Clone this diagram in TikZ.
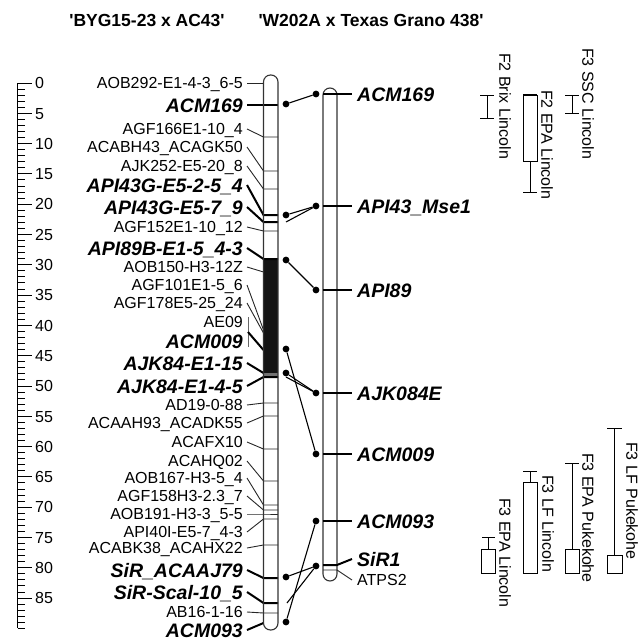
\documentclass[tikz,border=0pt]{standalone}
\usepackage{fontspec}
\setmainfont{Liberation Sans}
\usetikzlibrary{positioning}
\tikzset{
    maptitle/.style={font=\fontsize{17.5}{20}\selectfont\bfseries},
    mlbl/.style={anchor=east, inner sep=0pt, inner xsep=4pt, text height=11.5pt,
                text depth=0pt, font=\fontsize{16}{18}\selectfont},
    mlblb/.style={anchor=east, inner sep=0pt, inner xsep=4pt, text height=14pt,
                text depth=0pt, font=\fontsize{19.5}{21}\selectfont\bfseries\itshape},
    rlbl/.style={mlbl, anchor=west, inner xsep=5pt},
    rlblb/.style={mlblb, anchor=west, inner xsep=5pt},
    sclbl/.style={anchor=west, inner sep=2pt, text height=11.5pt, text depth=0pt,
                font=\fontsize{16}{18}\selectfont},
    chrom/.style={draw=black!80, line width=1.1pt, rounded corners=7pt},
    mk/.style={black!85, line width=0.9pt},
    bmk/.style={black, line width=2pt},
    link/.style={black, line width=1.1pt},
    dot/.style={circle, fill=black, inner sep=0pt, minimum size=6.8pt},
    qtl/.style={black, line width=1pt},
    qlbl/.style={rotate=-90, anchor=west, inner sep=0pt, font=\fontsize{16}{18}\selectfont},
}

\begin{document}
\begin{tikzpicture}[x=1pt, y=-1pt]
    \useasboundingbox (0,0) rectangle (642,640);

    \node[maptitle] (ttl1) at (147,20) {\textquotesingle BYG15-23 x AC43\textquotesingle};
    \node[maptitle] (ttl2) at (371,20) {\textquotesingle W202A x Texas Grano 438\textquotesingle};

    % cM scale
    \draw[line width=1.2pt] (17.5,83) -- (17.5,628.4);
    \foreach \c in {0,...,90}
        \draw[line width=1pt] (17.5,{83+6.06*\c}) -- (25,{83+6.06*\c});
    \foreach \c in {0,5,...,85} {
        \draw[line width=1pt] (17.5,{83+6.06*\c}) -- (32,{83+6.06*\c});
        \node[sclbl] (s\c) at (33,{83+6.06*\c}) {\c};
    }

    % BYG15-23 x AC43
    \fill[black!92] (263.5,258) rectangle (278,373);
    \fill[black!55] (263.5,373) rectangle (278,376);

    \node[mlbl] (a1) at (247,83) {AOB292-E1-4-3\_6-5};
    \coordinate (k1) at (263.5,83);
    \draw[mk] (a1.east) -- (k1);
    \node[mlblb] (a2) at (247,105) {ACM169};
    \coordinate (k2) at (263.5,105);
    \draw[bmk] (a2.east) -- (k2) -- ++(14.5,0);
    \node[mlbl] (a3) at (247,129) {AGF166E1-10\_4};
    \coordinate (k3) at (263.5,137);
    \draw[mk] (a3.east) -- (k3) -- ++(14.5,0);
    \node[mlbl] (a4) at (247,147) {ACABH43\_ACAGK50};
    \coordinate (k4) at (263.5,171);
    \draw[mk] (a4.east) -- (k4) -- ++(14.5,0);
    \node[mlbl] (a5) at (247,166) {AJK252-E5-20\_8};
    \coordinate (k5) at (263.5,189);
    \draw[mk] (a5.east) -- (k5) -- ++(14.5,0);
    \node[mlblb] (a6) at (247,185) {API43G-E5-2-5\_4};
    \coordinate (k6) at (263.5,215);
    \draw[bmk] (a6.east) -- (k6) -- ++(14.5,0);
    \node[mlblb] (a7) at (247,207) {API43G-E5-7\_9};
    \coordinate (k7) at (263.5,222);
    \draw[bmk] (a7.east) -- (k7) -- ++(14.5,0);
    \node[mlbl] (a8) at (247,227) {AGF152E1-10\_12};
    \coordinate (k8) at (263.5,231);
    \draw[mk] (a8.east) -- (k8) -- ++(14.5,0);
    \node[mlblb] (a9) at (247,248) {API89B-E1-5\_4-3};
    \coordinate (k9) at (263.5,259);
    \draw[bmk] (a9.east) -- (k9) -- ++(14.5,0);
    \node[mlbl] (a10) at (247,267) {AOB150-H3-12Z};
    \coordinate (k10) at (263.5,272);
    \draw[mk] (a10.east) -- (k10);
    \node[mlbl] (a11) at (247,285) {AGF101E1-5\_6};
    \coordinate (k11) at (263.5,330);
    \draw[mk] (a11.east) -- (k11);
    \node[mlbl] (a12) at (247,303) {AGF178E5-25\_24};
    \coordinate (k12) at (263.5,333);
    \draw[mk] (a12.east) -- (k12);
    \node[mlbl] (a13) at (247,322) {AE09};
    \node[mlblb] (a14) at (247,341) {ACM009};
    \coordinate (br1) at (248,317);
    \coordinate (br2) at (248,347);
    \coordinate (br3) at (248,332);
    \coordinate (k14) at (263.5,350);
    \draw[black!60, line width=1pt] (br1) -- (br2);
    \draw[bmk] (br3) -- (k14);
    \node[mlblb] (a15) at (247,363) {AJK84-E1-15};
    \coordinate (k15) at (263.5,373);
    \draw[bmk] (a15.east) -- (k15);
    \node[mlblb] (a16) at (247,386) {AJK84-E1-4-5};
    \coordinate (k16) at (263.5,377);
    \draw[bmk] (a16.east) -- (k16) -- ++(14.5,0);
    \node[mlbl] (a17) at (247,405) {AD19-0-88};
    \coordinate (k17) at (263.5,403);
    \draw[mk] (a17.east) -- (k17) -- ++(14.5,0);
    \node[mlbl] (a18) at (247,423) {ACAAH93\_ACADK55};
    \coordinate (k18) at (263.5,416);
    \draw[mk] (a18.east) -- (k18) -- ++(14.5,0);
    \node[mlbl] (a19) at (247,442) {ACAFX10};
    \coordinate (k19) at (263.5,449);
    \draw[mk] (a19.east) -- (k19) -- ++(14.5,0);
    \node[mlbl] (a20) at (247,461) {ACAHQ02};
    \coordinate (k20) at (263.5,481);
    \draw[mk] (a20.east) -- (k20) -- ++(14.5,0);
    \node[mlbl] (a21) at (247,478) {AOB167-H3-5\_4};
    \coordinate (k21) at (263.5,505);
    \draw[mk] (a21.east) -- (k21) -- ++(14.5,0);
    \node[mlbl] (a22) at (247,496) {AGF158H3-2.3\_7};
    \coordinate (k22) at (263.5,510);
    \draw[mk] (a22.east) -- (k22) -- ++(14.5,0);
    \node[mlbl] (a23) at (247,514) {AOB191-H3-3\_5-5};
    \coordinate (k23) at (263.5,514);
    \draw[mk] (a23.east) -- (k23) -- ++(14.5,0);
    \node[mlbl] (a24) at (247,532) {API40I-E5-7\_4-3};
    \coordinate (k24) at (263.5,519);
    \draw[mk] (a24.east) -- (k24) -- ++(14.5,0);
    \node[mlbl] (a25) at (247,548) {ACABK38\_ACAHX22};
    \coordinate (k25) at (263.5,545);
    \draw[mk] (a25.east) -- (k25) -- ++(14.5,0);
    \node[mlblb] (a26) at (247,570) {SiR\_ACAAJ79};
    \coordinate (k26) at (263.5,578);
    \draw[bmk] (a26.east) -- (k26) -- ++(14.5,0);
    \node[mlblb] (a27) at (247,592) {SiR-Scal-10\_5};
    \coordinate (k27) at (263.5,603);
    \draw[bmk] (a27.east) -- (k27) -- ++(14.5,0);
    \node[mlbl] (a28) at (247,612) {AB16-1-16};
    \coordinate (k28) at (263.5,613);
    \draw[mk] (a28.east) -- (k28) -- ++(14.5,0);
    \node[mlblb] (a29) at (247,630) {ACM093};
    \coordinate (k29) at (263.5,623);
    \draw[bmk] (a29.east) -- (k29);

    \draw[chrom] (263.5,75) rectangle (278,630);

    % W202A x Texas Grano 438
    \draw[chrom] (323,88) rectangle (337,581);

    \coordinate (q1) at (323,94);
    \node[rlblb] (b1) at (352,94) {ACM169};
    \draw[bmk] (q1) -- (b1.west);
    \coordinate (q2) at (323,206);
    \node[rlblb] (b2) at (352,206) {API43\_Mse1};
    \draw[bmk] (q2) -- (b2.west);
    \coordinate (q3) at (323,290);
    \node[rlblb] (b3) at (352,290) {API89};
    \draw[bmk] (q3) -- (b3.west);
    \coordinate (q4) at (323,393);
    \node[rlblb] (b4) at (352,393) {AJK084E};
    \draw[bmk] (q4) -- (b4.west);
    \coordinate (q5) at (323,454);
    \node[rlblb] (b5) at (352,454) {ACM009};
    \draw[bmk] (q5) -- (b5.west);
    \coordinate (q6) at (323,521);
    \node[rlblb] (b6) at (352,521) {ACM093};
    \draw[bmk] (q6) -- (b6.west);
    \coordinate (q7) at (323,565);
    \node[rlblb] (b7) at (352,559) {SiR1};
    \draw[bmk] (q7) -- ++(14,0) -- (b7.west);
    \coordinate (q8) at (323,570);
    \node[rlbl] (b8) at (352,580) {ATPS2};
    \draw[mk] (q8) -- ++(14,0) -- (b8.west);

    % links between maps
    \node[dot] (l1) at (286,104) {};
    \node[dot] (r1) at (316,94) {};
    \draw[link] (l1) -- (r1);
    \node[dot] (l2) at (286,215) {};
    \node[dot] (r2) at (316,206) {};
    \coordinate (l2b) at (286,222);
    \draw[link] (l2) -- (r2);
    \draw[link] (l2b) -- (r2);
    \node[dot] (l3) at (286,260) {};
    \node[dot] (r3) at (316,290) {};
    \draw[link] (l3) -- (r3);
    \node[dot] (l4) at (286,349) {};
    \node[dot] (r4) at (316,454) {};
    \draw[link] (l4) -- (r4);
    \node[dot] (l5) at (286,373) {};
    \node[dot] (r5) at (316,393) {};
    \coordinate (l5b) at (286,377);
    \draw[link] (l5) -- (r5);
    \draw[link] (l5b) -- (r5);
    \node[dot] (l6) at (286,622) {};
    \node[dot] (r6) at (316,521) {};
    \draw[link] (l6) -- (r6);
    \node[dot] (l7) at (286,577) {};
    \node[dot] (r7) at (316,566) {};
    \coordinate (l7b) at (287,603);
    \draw[link] (l7) -- (r7);
    \draw[link] (l7b) -- (r7);

    % QTL intervals
    \draw[qtl] (480,95) -- (494,95) (487,95) -- (487,118) (480,118) -- (494,118);
    \node[qlbl] (f1) at (505,53) {F2 Brix Lincoln};
    \draw[qtl] (523,95) rectangle (537,161);
    \draw[qtl] (530,161) -- (530,192) (523,192) -- (537,192);
    \draw[line width=1.8pt] (523,95) -- (537,95);
    \node[qlbl] (f2) at (547,90) {F2 EPA Lincoln};
    \draw[qtl] (565,95) -- (579,95) (572,95) -- (572,113) (565,113) -- (579,113);
    \node[qlbl] (f3) at (588,48) {F3 SSC Lincoln};

    \draw[qtl] (481,549) rectangle (495,573);
    \draw[qtl] (488,549) -- (488,537) (482,537) -- (495,537);
    \node[qlbl] (f4) at (505,498) {F3 EPA Lincoln};
    \draw[qtl] (523,482) rectangle (537,573);
    \draw[qtl] (530,482) -- (530,471) (523,471) -- (537,471);
    \node[qlbl] (f5) at (548,475) {F3 LF Lincoln};
    \draw[qtl] (565,549) rectangle (579,573);
    \draw[qtl] (572,549) -- (572,463) (565,463) -- (579,463);
    \node[qlbl] (f6) at (588,453) {F3 EPA Pukekohe};
    \draw[qtl] (607,555) rectangle (622,573);
    \draw[qtl] (614.5,555) -- (614.5,428) (607,428) -- (622,428);
    \node[qlbl] (f7) at (632,442) {F3 LF Pukekohe};
\end{tikzpicture}
\end{document}
